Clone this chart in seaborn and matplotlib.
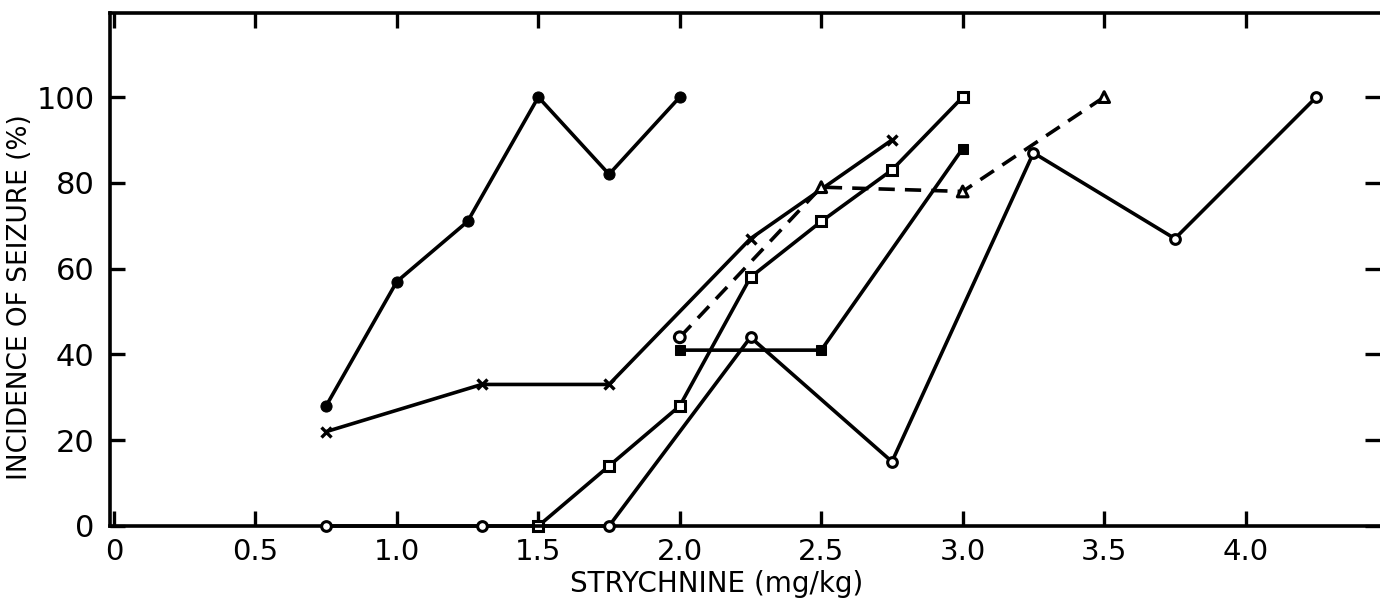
import matplotlib
matplotlib.use("Agg")
import matplotlib.pyplot as plt
import seaborn as sns
import pandas as pd

# ---- data ----
dose_filled_circle = [0.75, 1.0, 1.25, 1.5, 1.75, 2.0]
inc_filled_circle = [28, 57, 71, 100, 82, 100]

dose_cross = [0.75, 1.3, 1.75, 2.25, 2.75]
inc_cross = [22, 33, 33, 67, 90]

dose_open_square = [1.5, 1.75, 2.0, 2.25, 2.5, 2.75, 3.0]
inc_open_square = [0, 14, 28, 58, 71, 83, 100]

dose_filled_square = [2.0, 2.5, 3.0]
inc_filled_square = [41, 41, 88]

dose_dashed = [2.0, 2.5, 3.0, 3.5]
inc_dashed = [44, 79, 78, 100]
marker_dashed = ["o", "^", "^", "^"]

dose_open_circle = [0.75, 1.3, 1.75, 2.25, 2.75, 3.25, 3.75, 4.25]
inc_open_circle = [0, 0, 0, 44, 15, 87, 67, 100]

x_ticks = [0, 0.5, 1.0, 1.5, 2.0, 2.5, 3.0, 3.5, 4.0]
x_ticklabels = ["0", "0.5", "1.0", "1.5", "2.0", "2.5", "3.0", "3.5", "4.0"]
y_ticks = [0, 20, 40, 60, 80, 100]
y_ticklabels = ["0", "20", "40", "60", "80", "100"]

sns.set_theme(style="ticks")
plt.rcParams["font.family"] = ["DejaVu Sans"]

fig = plt.figure(figsize=(13.8, 6.03), dpi=100)
ax = fig.add_axes([0.0797, 0.1277, 0.9203, 0.850])

LW = 2.6
common = dict(color="black", linewidth=LW, ax=ax, sort=False, estimator=None,
              clip_on=False, zorder=4)

sns.lineplot(x=dose_filled_circle, y=inc_filled_circle, marker="o", markersize=8,
             markerfacecolor="black", markeredgecolor="black", **common)
sns.lineplot(x=dose_cross, y=inc_cross, marker="x", markersize=7, markeredgewidth=2.4,
             markeredgecolor="black", **common)
sns.lineplot(x=dose_open_square, y=inc_open_square, marker="s", markersize=7,
             markerfacecolor="white", markeredgecolor="black", markeredgewidth=2.2, **common)
sns.lineplot(x=dose_filled_square, y=inc_filled_square, marker="s", markersize=7,
             markerfacecolor="black", markeredgecolor="black", **common)
sns.lineplot(x=dose_open_circle, y=inc_open_circle, marker="o", markersize=7,
             markerfacecolor="white", markeredgecolor="black", markeredgewidth=2.2, **common)
ln = sns.lineplot(x=dose_dashed, y=inc_dashed, **common)
ln.lines[-1].set_dashes((4.5, 2.8))
df_d = pd.DataFrame({"dose": dose_dashed, "inc": inc_dashed, "m": marker_dashed})
sns.scatterplot(data=df_d, x="dose", y="inc", style="m", markers={"o": "o", "^": "^"},
                s=60, facecolor="white", edgecolor="black", linewidth=2.2, ax=ax,
                legend=False, zorder=5)

ax.set_xlim(-0.014, 4.475)
ax.set_ylim(0, 119.5)

ax.set_xticks(x_ticks)
ax.set_xticklabels(x_ticklabels)
ax.set_yticks(y_ticks)
ax.set_yticklabels(y_ticklabels)

ax.tick_params(axis="both", which="major", direction="in", length=11, width=2.4,
               labelsize=21, colors="black", pad=9,
               top=True, right=True, labeltop=False, labelright=False)
ax.tick_params(axis="y", pad=11, labelsize=22)
for s in ["left", "bottom", "top"]:
    ax.spines[s].set_linewidth(2.6)
    ax.spines[s].set_color("black")
    ax.spines[s].set_zorder(3)
ax.spines["right"].set_visible(False)

ax.set_xlabel("STRYCHNINE (mg/kg)", fontsize=20, color="black")
ax.set_ylabel("INCIDENCE OF SEIZURE (%)", fontsize=19, color="black")
ax.xaxis.set_label_coords(0.478, -0.085)
ax.yaxis.set_label_coords(-0.061, 0.447)

fig.savefig("out.png", dpi=100, facecolor="white")
